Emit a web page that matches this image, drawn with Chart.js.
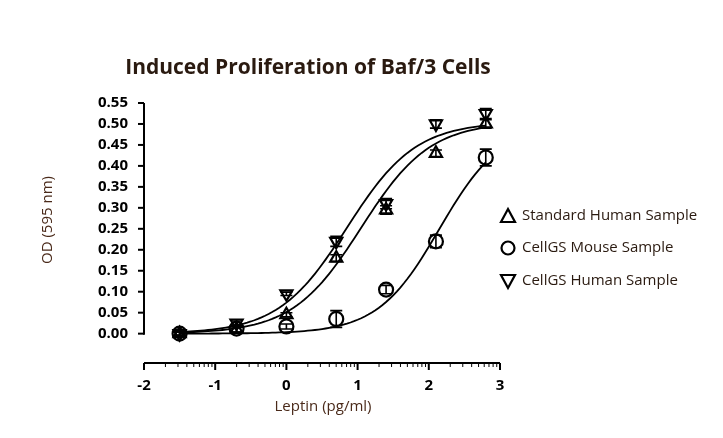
<!DOCTYPE html>
<html><head><meta charset="utf-8">
<script src="https://cdn.jsdelivr.net/npm/chart.js@4"></script>
<style>body{margin:0;background:#fff}#w{width:723px;height:438px}</style>
</head><body><div id="w"><canvas id="c"></canvas></div>
<script>
const doses = [-1.5, -0.7, 0, 0.7, 1.4, 2.1, 2.8];
const standardHuman = [0.0, 0.01, 0.045, 0.18, 0.295, 0.43, 0.50];
const standardErr = [0.004, 0.006, 0.005, 0.008, 0.01, 0.008, 0.01];
const mouseSample = [0.0, 0.012, 0.017, 0.035, 0.105, 0.22, 0.42];
const mouseErr = [0.004, 0.008, 0.006, 0.02, 0.01, 0.015, 0.02];
const humanSample = [0.0, 0.025, 0.095, 0.22, 0.31, 0.50, 0.525];
const humanErr = [0.004, 0.008, 0.004, 0.012, 0.012, 0.01, 0.012];
// 4PL fit parameters [bottom, top, logEC50, hill]
const fitStandard = [0, 0.505, 1.05, 0.9];
const fitMouse = [0, 0.5, 2.15, 1.0];
const fitHuman = [0, 0.505, 0.85, 0.9];
const yTicks = [0,0.05,0.1,0.15,0.2,0.25,0.3,0.35,0.4,0.45,0.5,0.55];
const xTicks = [-2,-1,0,1,2,3];
const names = ['Standard Human Sample','CellGS Mouse Sample','CellGS Human Sample'];
const brown = '#4a2a1a';
function curve(p){const a=[];for(let x=-1.5;x<=2.8001;x+=0.05){a.push({x:x,y:p[0]+(p[1]-p[0])/(1+Math.pow(10,(p[2]-x)*p[3]))});}return a;}
function pts(v){return doses.map((d,i)=>({x:d,y:v[i]}));}
const lineDs = p=>({type:'line',data:curve(p),borderColor:'#000',borderWidth:1.8,pointRadius:0,fill:false,tension:0});
const ptDs = (v,style,rot,err)=>({type:'scatter',data:pts(v),err:err,pointStyle:style,rotation:rot,pointRadius:7,borderColor:'#000',backgroundColor:'rgba(255,255,255,0)',borderWidth:2.2,pointHoverRadius:7});
const decor = {id:'decor',afterDatasetsDraw(ch){
  const c=ch.ctx,xs=ch.scales.x,ys=ch.scales.y;
  c.save();c.strokeStyle='#000';c.lineWidth=1.6;
  ch.data.datasets.forEach(ds=>{if(!ds.err)return;ds.data.forEach((p,i)=>{const px=xs.getPixelForValue(p.x),t=ys.getPixelForValue(p.y+ds.err[i]),b=ys.getPixelForValue(p.y-ds.err[i]);c.beginPath();c.moveTo(px,t);c.lineTo(px,b);c.moveTo(px-6,t);c.lineTo(px+6,t);c.moveTo(px-6,b);c.lineTo(px+6,b);c.stroke();});});
  const x0=ch.chartArea.left;c.lineWidth=2;c.beginPath();c.moveTo(x0,ys.getPixelForValue(0)+1);c.lineTo(x0,ys.getPixelForValue(0.55));c.stroke();
  yTicks.forEach(v=>{const y=ys.getPixelForValue(v);c.beginPath();c.moveTo(x0-6,y);c.lineTo(x0,y);c.stroke();});
  const yb=ch.chartArea.bottom;c.beginPath();c.moveTo(xs.getPixelForValue(-2),yb);c.lineTo(xs.getPixelForValue(3),yb);c.stroke();
  xTicks.forEach(v=>{const x=xs.getPixelForValue(v);c.beginPath();c.moveTo(x,yb);c.lineTo(x,yb+7);c.stroke();});
  c.lineWidth=1;
  for(let d=-2;d<3;d++)for(let k=2;k<10;k++){const x=xs.getPixelForValue(d+Math.log10(k));c.beginPath();c.moveTo(x,yb);c.lineTo(x,yb+4);c.stroke();}
  c.fillStyle='#2a1a10';c.font='bold 21px "Open Sans"';c.textAlign='center';c.textBaseline='middle';
  c.fillText('Induced Proliferation of Baf/3 Cells',308,68);
  c.fillStyle=brown;c.font='15px "Open Sans"';c.fillText('Leptin (pg/ml)',323,407);
  c.save();c.translate(48,220);c.rotate(-Math.PI/2);c.fillText('OD (595 nm)',0,0);c.restore();
  c.textAlign='left';c.font='15px "Open Sans"';c.lineWidth=2.2;
  const ly=[216,248,281];
  ly.forEach((y,i)=>{const x=508;c.beginPath();
    if(i==0){c.moveTo(x,y-7);c.lineTo(x+7,y+6);c.lineTo(x-7,y+6);c.closePath();}
    else if(i==1){c.arc(x,y,6.5,0,Math.PI*2);}
    else {c.moveTo(x,y+7);c.lineTo(x+7,y-6);c.lineTo(x-7,y-6);c.closePath();}
    c.stroke();c.fillStyle='#2a1a10';c.fillText(names[i],522,y);});
  c.restore();}};
new Chart(document.getElementById('c'),{
  data:{datasets:[lineDs(fitStandard),lineDs(fitMouse),lineDs(fitHuman),
    ptDs(standardHuman,'triangle',0,standardErr),ptDs(mouseSample,'circle',0,mouseErr),ptDs(humanSample,'triangle',180,humanErr)]},
  options:{responsive:true,maintainAspectRatio:false,animation:false,
    layout:{padding:{left:0,right:223,top:103,bottom:0}},
    plugins:{legend:{display:false},tooltip:{enabled:false}},
    scales:{
      x:{type:'linear',min:-2,max:3,grid:{display:false},border:{display:false},
        afterBuildTicks:s=>{s.ticks=xTicks.map(v=>({value:v}));},
        afterFit:s=>{s.height=75;},
        ticks:{color:'#000',font:{size:15,family:'"Open Sans"',weight:'bold'},padding:6,callback:v=>v}},
      y:{type:'linear',min:-0.07,max:0.55,grid:{display:false},border:{display:false},
        afterBuildTicks:s=>{s.ticks=yTicks.map(v=>({value:v}));},
        afterFit:s=>{s.width=144;},
        ticks:{color:'#000',font:{size:15,family:'"Open Sans"',weight:'bold'},padding:8,callback:v=>v.toFixed(2)}}}},
  plugins:[decor]});
</script></body></html>
